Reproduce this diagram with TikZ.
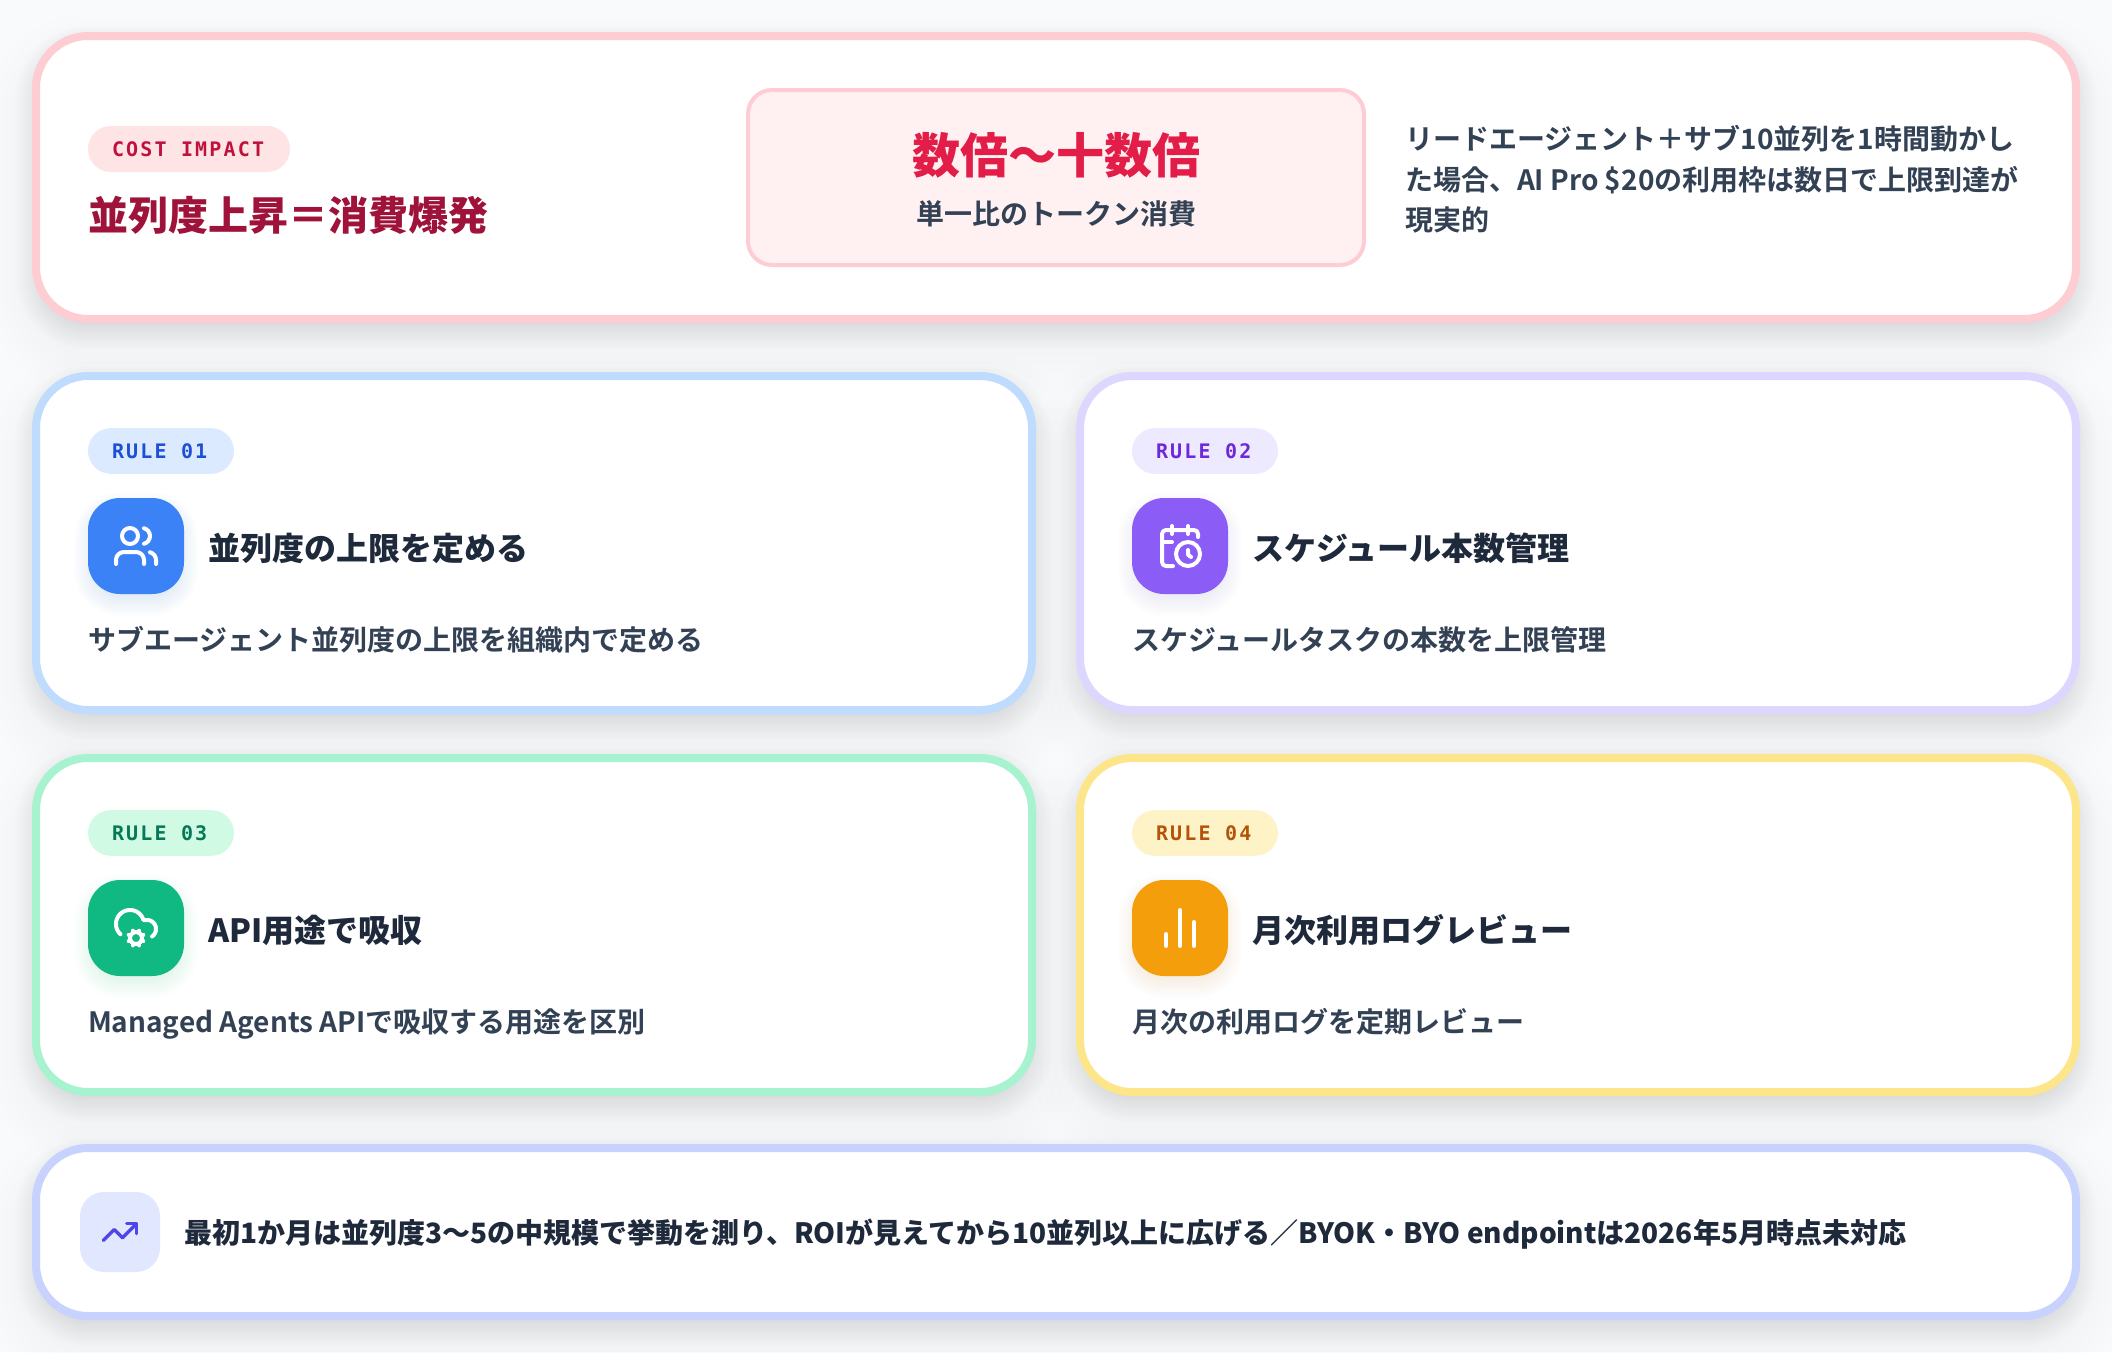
\documentclass[tikz,border=0pt]{standalone}
\usepackage{fontspec}
\newfontfamily\jpb{Noto Sans CJK JP Bold}
\newfontfamily\jpk{Noto Sans CJK JP Black}
\newfontfamily\monob[LetterSpace=11,Scale=1]{DejaVu Sans Mono Bold}
\definecolor{bgc}{HTML}{F8FAFC}
\definecolor{ink}{HTML}{1E293B}
\definecolor{slate}{HTML}{334155}
\definecolor{shadowc}{HTML}{0F172A}
\definecolor{rosed}{HTML}{FECDD3}
\definecolor{rosep}{HTML}{FFE4E6}
\definecolor{roset}{HTML}{BE123C}
\definecolor{rosetitle}{HTML}{9F1239}
\definecolor{rosebig}{HTML}{E11D48}
\definecolor{rosefill}{HTML}{FFF1F2}
\definecolor{blued}{HTML}{BFDBFE}
\definecolor{bluep}{HTML}{DBEAFE}
\definecolor{bluet}{HTML}{1D4ED8}
\definecolor{bluei}{HTML}{3B82F6}
\definecolor{purd}{HTML}{DDD6FE}
\definecolor{purp}{HTML}{EDE9FE}
\definecolor{purt}{HTML}{6D28D9}
\definecolor{puri}{HTML}{8B5CF6}
\definecolor{gred}{HTML}{A7F3D0}
\definecolor{grep}{HTML}{D1FAE5}
\definecolor{gret}{HTML}{047857}
\definecolor{grei}{HTML}{10B981}
\definecolor{yeld}{HTML}{FDE68A}
\definecolor{yelp}{HTML}{FEF3C7}
\definecolor{yelt}{HTML}{B45309}
\definecolor{yeli}{HTML}{F59E0B}
\definecolor{indd}{HTML}{C7D2FE}
\definecolor{indp}{HTML}{E0E7FF}
\definecolor{indt}{HTML}{4F46E5}
\tikzset{
  cardbox/.style={draw=#1,fill=white,line width=8pt,rounded corners=52pt,inner sep=0pt,outer sep=0pt},
  pillbox/.style={fill=#1,rounded corners=22.8pt,inner sep=0pt,outer sep=0pt},
  iconbox/.style={fill=#1,rounded corners=32pt,inner sep=0pt,outer sep=0pt,minimum width=96pt,minimum height=96pt},
  lbl/.style={inner sep=0pt,outer sep=0pt,text=#1},
  iconline/.style={draw=white,line width=4pt,line cap=round,line join=round},
}
% softshadow{x1}{y1}{x2}{y2}{radius}{colour}{alpha per layer}{dy}{spread}
\newcommand{\softshadow}[9]{%
  \foreach \i in {0,...,12}{%
    \pgfmathsetmacro{\sv}{#9-\i*2*#9/12}%
    \pgfmathsetmacro{\xa}{#1-\sv}\pgfmathsetmacro{\ya}{#2-\sv+#8}%
    \pgfmathsetmacro{\xb}{#3+\sv}\pgfmathsetmacro{\yb}{#4+\sv+#8}%
    \pgfmathsetmacro{\rr}{max(#5+\sv,2)}%
    \path[fill=#6,fill opacity=#7,rounded corners=\rr pt] (\xa,\ya) rectangle (\xb,\yb);
  }}
\newcommand{\cardshadow}[4]{%
  \softshadow{#1}{#2}{#3}{#4}{56}{shadowc}{0.0045}{26}{44}%
  \softshadow{#1}{#2}{#3}{#4}{56}{shadowc}{0.0075}{10}{16}%
}
% rule card: id, dx, dy, border, pill, pilltext, icon, label, title
\newcommand{\rulecard}[9]{%
  \cardshadow{32+#2}{372+#3}{1036+#2}{714+#3}
  \node[cardbox=#4,minimum width=996pt,minimum height=334pt] (card#1) at ({534+#2},{543+#3}) {};
  \node[pillbox=#5,minimum width=146pt,minimum height=45.6pt] (pill#1) at ({161+#2},{451+#3}) {};
  \node[lbl=#6,font=\monob\fontsize{20}{24}\selectfont,anchor=base west] (tag#1) at ({112+#2},{458.3+#3}) {#8};
  \softshadow{88+#2}{498+#3}{184+#2}{594+#3}{32}{#7}{0.012}{8}{14}
  \node[iconbox=#7] (icon#1) at ({136+#2},{546+#3}) {};
  \node[lbl=ink,font=\jpk\fontsize{32}{38}\selectfont,anchor=base west] (title#1) at ({208+#2},{560+#3}) {#9};
}
\begin{document}
\begin{tikzpicture}[x=1pt,y=-1pt]
\path[fill=bgc,use as bounding box] (0,0) rectangle (2112,1352);

% cost impact card
\cardshadow{32}{32}{2080}{323}
\node[cardbox=rosed,minimum width=2040pt,minimum height=283pt] (cost) at (1056,177.5) {};
\node[pillbox=rosep,minimum width=202pt,minimum height=46pt] (costpill) at (189,149) {};
\node[lbl=roset,font=\monob\fontsize{20}{24}\selectfont,anchor=base west] (costtag) at (112,156.3) {COST IMPACT};
\node[lbl=rosetitle,font=\jpk\fontsize{40}{48}\selectfont,anchor=base west] (costtitle) at (88,230) {並列度上昇＝消費爆発};
\node[draw=rosed,fill=rosefill,line width=4pt,rounded corners=24pt,inner sep=0pt,outer sep=0pt,minimum width=616pt,minimum height=175pt] (multi) at (1056,177.5) {};
\node[lbl=rosebig,font=\jpk\fontsize{48}{56}\selectfont,anchor=base] (multiv) at (1056,173.5) {数倍〜十数倍};
\node[lbl=slate,font=\jpb\fontsize{28}{34}\selectfont,anchor=base] (multis) at (1056,224) {単一比のトークン消費};
\node[lbl=slate,font=\jpb\fontsize{28}{40.5}\selectfont,align=left,anchor=base west] (costnote) at (1405,230.6) {リードエージェント＋サブ10並列を1時間動かし\\た場合、AI Pro \$20の利用枠は数日で上限到達が\\現実的};

% rule cards
\rulecard{a}{0}{0}{blued}{bluep}{bluet}{bluei}{RULE 01}{並列度の上限を定める}
\node[lbl=slate,font=\jpb\fontsize{28}{34}\selectfont,anchor=base west] (desca) at (88,650.6) {サブエージェント並列度の上限を組織内で定める};
\begin{scope}[shift={(112,522)},x=2pt,y=-2pt]
  \draw[iconline] (16,21) -- (16,19) .. controls (16,16.79) and (14.21,15) .. (12,15) -- (6,15) .. controls (3.79,15) and (2,16.79) .. (2,19) -- (2,21);
  \draw[iconline] (9,7) circle [radius=8pt];
  \draw[iconline] (22,21) -- (22,19) .. controls (22,17.18) and (20.76,15.58) .. (19,15.13);
  \draw[iconline] (16,3.13) .. controls (17.77,3.58) and (19,5.18) .. (19,7) .. controls (19,8.82) and (17.77,10.42) .. (16,10.88);
\end{scope}

\rulecard{b}{1044}{0}{purd}{purp}{purt}{puri}{RULE 02}{スケジュール本数管理}
\node[lbl=slate,font=\jpb\fontsize{28}{34}\selectfont,anchor=base west] (descb) at (1132,650.6) {スケジュールタスクの本数を上限管理};
\begin{scope}[shift={(1156,522)},x=2pt,y=-2pt]
  \draw[iconline,rounded corners=4pt] (21,7.5) -- (21,4) -- (3,4) -- (3,22) -- (8.5,22);
  \draw[iconline] (16,2) -- (16,6);
  \draw[iconline] (8,2) -- (8,6);
  \draw[iconline] (3,10) -- (8,10);
  \draw[iconline] (17.5,17.5) -- (16,16.3) -- (16,14);
  \draw[iconline] (16,16) circle [radius=12pt];
\end{scope}

\rulecard{c}{0}{382}{gred}{grep}{gret}{grei}{RULE 03}{API用途で吸収}
\node[lbl=slate,font=\jpb\fontsize{28}{34}\selectfont,anchor=base west] (descc) at (88,1032.6) {Managed Agents APIで吸収する用途を区別};
\begin{scope}[shift={(112,904)},x=2pt,y=-2pt]
  \draw[iconline] plot[domain=133.3:343.4,samples=50] ({9+7*cos(\x)},{10+7*sin(\x)}) -- (17.5,8) -- plot[domain=270:416,samples=40] ({17.5+4.5*cos(\x)},{12.5+4.5*sin(\x)});
  \draw[iconline] (12,17) circle [radius=6pt];
  \draw[iconline] (10.852,19.772) -- (10.469,20.696);
  \draw[iconline] (13.148,14.228) -- (13.531,13.305);
  \draw[iconline] (13.53,20.696) -- (13.148,19.772);
  \draw[iconline] (14.772,15.852) -- (15.695,15.469);
  \draw[iconline] (14.772,18.148) -- (15.695,18.531);
  \draw[iconline] (9.228,15.852) -- (8.305,15.469);
  \draw[iconline] (9.228,18.148) -- (8.305,18.531);
  \draw[iconline] (10.469,13.305) -- (10.852,14.228);
\end{scope}

\rulecard{d}{1044}{382}{yeld}{yelp}{yelt}{yeli}{RULE 04}{月次利用ログレビュー}
\node[lbl=slate,font=\jpb\fontsize{28}{34}\selectfont,anchor=base west] (descd) at (1132,1032.6) {月次の利用ログを定期レビュー};
\begin{scope}[shift={(1156,904)},x=2pt,y=-2pt]
  \draw[iconline] (5,21) -- (5,15);
  \draw[iconline] (12,21) -- (12,3);
  \draw[iconline] (19,21) -- (19,9);
\end{scope}

% note card
\cardshadow{32}{1144}{2080}{1320}
\node[cardbox=indd,minimum width=2040pt,minimum height=168pt] (note) at (1056,1232) {};
\node[fill=indp,rounded corners=24pt,inner sep=0pt,outer sep=0pt,minimum width=80pt,minimum height=80pt] (noteicon) at (120,1232) {};
\begin{scope}[shift={(100,1212)},x=1.6667pt,y=-1.6667pt]
  \draw[draw=indt,line width=3.33pt,line cap=round,line join=round] (16,7) -- (22,7) -- (22,13);
  \draw[draw=indt,line width=3.33pt,line cap=round,line join=round] (22,7) -- (13.5,15.5) -- (8.5,10.5) -- (2,17);
\end{scope}
\node[lbl=ink,font=\jpk\fontsize{28}{34}\selectfont,anchor=base west] (notetext) at (184,1243.6) {最初1か月は並列度3〜5の中規模で挙動を測り、ROIが見えてから10並列以上に広げる／BYOK・BYO endpointは2026年5月時点未対応};
\end{tikzpicture}
\end{document}
